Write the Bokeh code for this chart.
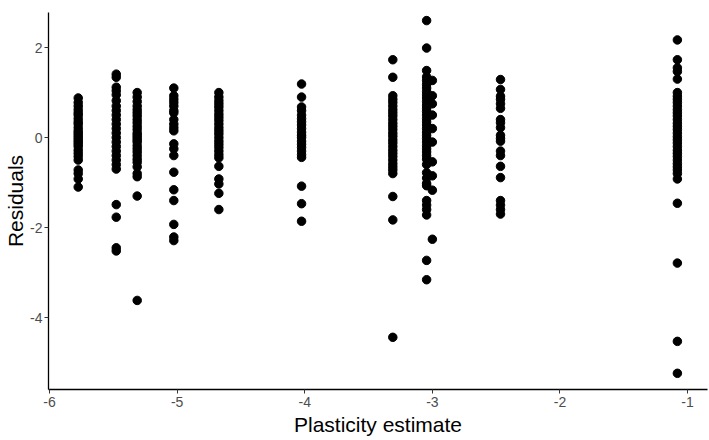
from bokeh.plotting import figure
from bokeh.models import FixedTicker, ColumnDataSource, Range1d
from bokeh.embed import file_html
from bokeh.resources import INLINE

# Plasticity estimate (x) for each group of residuals
plasticity = [-5.775, -5.477, -5.313, -5.026, -4.673, -4.025, -3.31, -3.045, -3.0, -2.466, -1.08]

# Residuals in each group
res_g1 = [0.88, 0.78, 0.7, 0.62, 0.55, 0.5, 0.42, 0.35, 0.3, 0.22, 0.15, 0.1, 0.05, 0.0,
          -0.05, -0.1, -0.15, -0.2, -0.28, -0.35, -0.42, -0.5, -0.72, -0.8, -0.92, -1.1]
res_g2 = [1.41, 1.34, 1.12, 1.04, 0.95, 0.82, 0.7, 0.6, 0.5, 0.4, 0.3, 0.2, 0.1, 0.0,
          -0.1, -0.2, -0.3, -0.4, -0.5, -0.6, -0.7, -1.49, -1.77, -2.45, -2.52]
res_g3 = [1.0, 0.9, 0.8, 0.7, 0.62, 0.55, 0.48, 0.4, 0.33, 0.25, 0.18, 0.1, 0.05, 0.0,
          -0.05, -0.1, -0.18, -0.25, -0.32, -0.4, -0.48, -0.55, -0.65, -0.8, -0.87, -1.3, -3.62]
res_g4 = [1.1, 0.93, 0.85, 0.78, 0.7, 0.6, 0.55, 0.4, 0.3, 0.22, 0.15, -0.14, -0.25, -0.4,
          -0.77, -1.16, -1.4, -1.93, -2.21, -2.29]
res_g5 = [1.0, 0.9, 0.82, 0.75, 0.68, 0.6, 0.52, 0.45, 0.38, 0.3, 0.22, 0.15, 0.08, 0.0,
          -0.08, -0.15, -0.22, -0.3, -0.38, -0.45, -0.64, -0.92, -1.03, -1.24, -1.6]
res_g6 = [1.19, 0.9, 0.68, 0.6, 0.5, 0.42, 0.35, 0.28, 0.2, 0.12, 0.05, 0.0, -0.08, -0.15,
          -0.22, -0.3, -0.38, -0.44, -1.08, -1.47, -1.86]
res_g7 = [1.73, 1.34, 0.93, 0.85, 0.78, 0.7, 0.62, 0.55, 0.48, 0.4, 0.32, 0.25, 0.18, 0.1,
          0.03, -0.05, -0.12, -0.2, -0.28, -0.35, -0.42, -0.5, -0.58, -0.65, -0.72, -0.8,
          -1.31, -1.83, -4.44]
res_g8 = [2.6, 1.99, 1.49, 1.35, 1.27, 1.18, 1.1, 1.02, 0.95, 0.88, 0.8, 0.72, 0.65, 0.58,
          0.5, 0.42, 0.35, 0.28, 0.2, 0.12, 0.05, -0.02, -0.1, -0.18, -0.25, -0.32, -0.4,
          -0.48, -0.6, -0.78, -0.9, -1.02, -1.07, -1.4, -1.5, -1.6, -1.72, -2.73, -3.16]
res_g9 = [1.27, 0.93, 0.75, 0.5, 0.2, -0.1, -0.54, -0.85, -1.17, -2.26]
res_g10 = [1.29, 1.07, 0.92, 0.85, 0.75, 0.65, 0.4, 0.33, 0.22, 0.05, -0.02, -0.08, -0.3,
           -0.4, -0.64, -0.89, -1.4, -1.5, -1.6, -1.7]
res_g11 = [2.17, 1.73, 1.55, 1.47, 1.3, 1.0, 0.92, 0.85, 0.78, 0.7, 0.62, 0.55, 0.48, 0.4,
           0.32, 0.25, 0.18, 0.1, 0.02, -0.05, -0.12, -0.2, -0.28, -0.35, -0.42, -0.5,
           -0.58, -0.65, -0.72, -0.8, -0.92, -1.46, -2.79, -4.53, -5.24]

x_ticks = [-6, -5, -4, -3, -2, -1]
x_tick_labels = ["-6", "-5", "-4", "-3", "-2", "-1"]
y_ticks = [-4, -2, 0, 2]
y_tick_labels = ["-4", "-2", "0", "2"]

groups = [res_g1, res_g2, res_g3, res_g4, res_g5, res_g6, res_g7, res_g8, res_g9, res_g10, res_g11]
xs, ys = [], []
for xv, g in zip(plasticity, groups):
    xs.extend([xv] * len(g))
    ys.extend(g)
src = ColumnDataSource(data=dict(x=xs, y=ys))

p = figure(width=709, height=440, output_backend="svg", toolbar_location=None,
           x_range=Range1d(-6.008, -0.844), y_range=Range1d(-5.6, 2.78),
           min_border_left=48, min_border_right=2, min_border_top=12, min_border_bottom=51)
p.scatter("x", "y", source=src, size=8.5, color="black")

p.xgrid.visible = False
p.ygrid.visible = False
p.outline_line_color = None
p.background_fill_color = "white"

p.xaxis.ticker = FixedTicker(ticks=x_ticks)
p.yaxis.ticker = FixedTicker(ticks=y_ticks)
p.xaxis.major_label_overrides = dict(zip(x_ticks, x_tick_labels))
p.yaxis.major_label_overrides = dict(zip(y_ticks, y_tick_labels))
p.xaxis.axis_label = "Plasticity estimate"
p.yaxis.axis_label = "Residuals"
for ax in (p.xaxis, p.yaxis):
    ax.axis_line_color = "black"
    ax.axis_line_width = 1.3
    ax.major_tick_line_color = "#333333"
    ax.major_tick_out = 4
    ax.major_tick_in = 0
    ax.minor_tick_line_color = None
    ax.major_label_text_font = "Liberation Sans"
    ax.major_label_text_font_size = "14px"
    ax.major_label_text_color = "#4d4d4d"
    ax.axis_label_text_font = "Liberation Sans"
    ax.axis_label_text_font_size = "21px"
    ax.axis_label_text_font_style = "normal"
    ax.axis_label_text_color = "black"
p.yaxis.major_label_standoff = 2
p.yaxis.axis_label_standoff = 0
p.xaxis.major_label_standoff = 3
p.xaxis.axis_label_standoff = 3

open("out.html", "w").write(file_html(p, INLINE))
